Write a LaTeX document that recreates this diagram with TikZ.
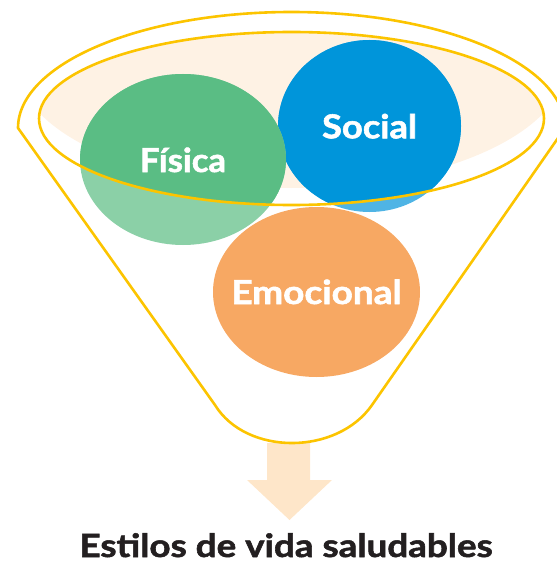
\documentclass[tikz,border=0pt]{standalone}
\usepackage{fontspec}
\setmainfont{Lato}
\newfontfamily\heavyfont{Lato}[BoldFeatures={FakeBold=1.6}]
\usepackage{graphicx}
\definecolor{funnelY}{HTML}{FCC400}
\definecolor{beige}{HTML}{FEF2E4}
\definecolor{greenD}{HTML}{5ABD84}
\definecolor{greenL}{HTML}{8BD0A7}
\definecolor{blueD}{HTML}{0095DA}
\definecolor{blueL}{HTML}{4FB4E5}
\definecolor{orangeC}{HTML}{F7A863}
\definecolor{arrowC}{HTML}{FEE6C9}
\definecolor{darkT}{HTML}{231F20}
\tikzset{
  funnelline/.style={draw=funnelY, line width=2.6pt, line join=round},
  label/.style={text=white, font=\heavyfont\bfseries\fontsize{33}{36}\selectfont, anchor=base, inner sep=0pt},
  title/.style={text=darkT, font=\heavyfont\bfseries\fontsize{32}{35}\selectfont, anchor=base, inner sep=0pt}
}
\begin{document}
\begin{tikzpicture}[x=1pt,y=-1pt]
\useasboundingbox (0,0) rectangle (556,564);
% beige mouth
\begin{scope}
  \clip (291.5,118.5) ellipse [x radius=252.5, y radius=86.5];
  \fill[beige] (291.5,63) ellipse [x radius=275, y radius=125];
\end{scope}
% Social
\fill[blueL] (369.5,126) ellipse [x radius=91.5, y radius=86];
\begin{scope}
  \clip (291.5,118.5) ellipse [x radius=252.5, y radius=86.5];
  \fill[blueD] (369.5,126) ellipse [x radius=91.5, y radius=86];
\end{scope}
% Fisica
\fill[greenL] (183,159.5) ellipse [x radius=103, y radius=85.5];
\begin{scope}
  \clip (291.5,118.5) ellipse [x radius=252.5, y radius=86.5];
  \fill[greenD] (183,159.5) ellipse [x radius=103, y radius=85.5];
\end{scope}
% Emocional
\fill[orangeC] (316.5,292) ellipse [x radius=103.5, y radius=85];
% arrow
\fill[arrowC] (267,443) -- (310,443) -- (310,480) -- (332,480) -- (289.5,520) -- (247,480) -- (267,480) -- cycle;
% funnel
\draw[funnelline] (18,128) arc[start angle=180, end angle=360, x radius=273.5, y radius=116]
  -- (372,405) .. controls (336.8,455.7) and (246.2,455.7) .. (215,405) -- cycle;
\draw[funnelline] (291.5,118.5) ellipse [x radius=252.5, y radius=86.5];
% labels
\node[label] (fis) at (183,172) {\scalebox{1.05}[1]{Física}};
\node[label] (soc) at (369.5,138.3) {\scalebox{1.1}[1]{Social}};
\node[label] (emo) at (316.5,304) {\scalebox{1.12}[1]{Emocional}};
\node[title] (tit) at (286,557) {\scalebox{1.15}[1]{Estilos de vida saludables}};
\end{tikzpicture}
\end{document}
